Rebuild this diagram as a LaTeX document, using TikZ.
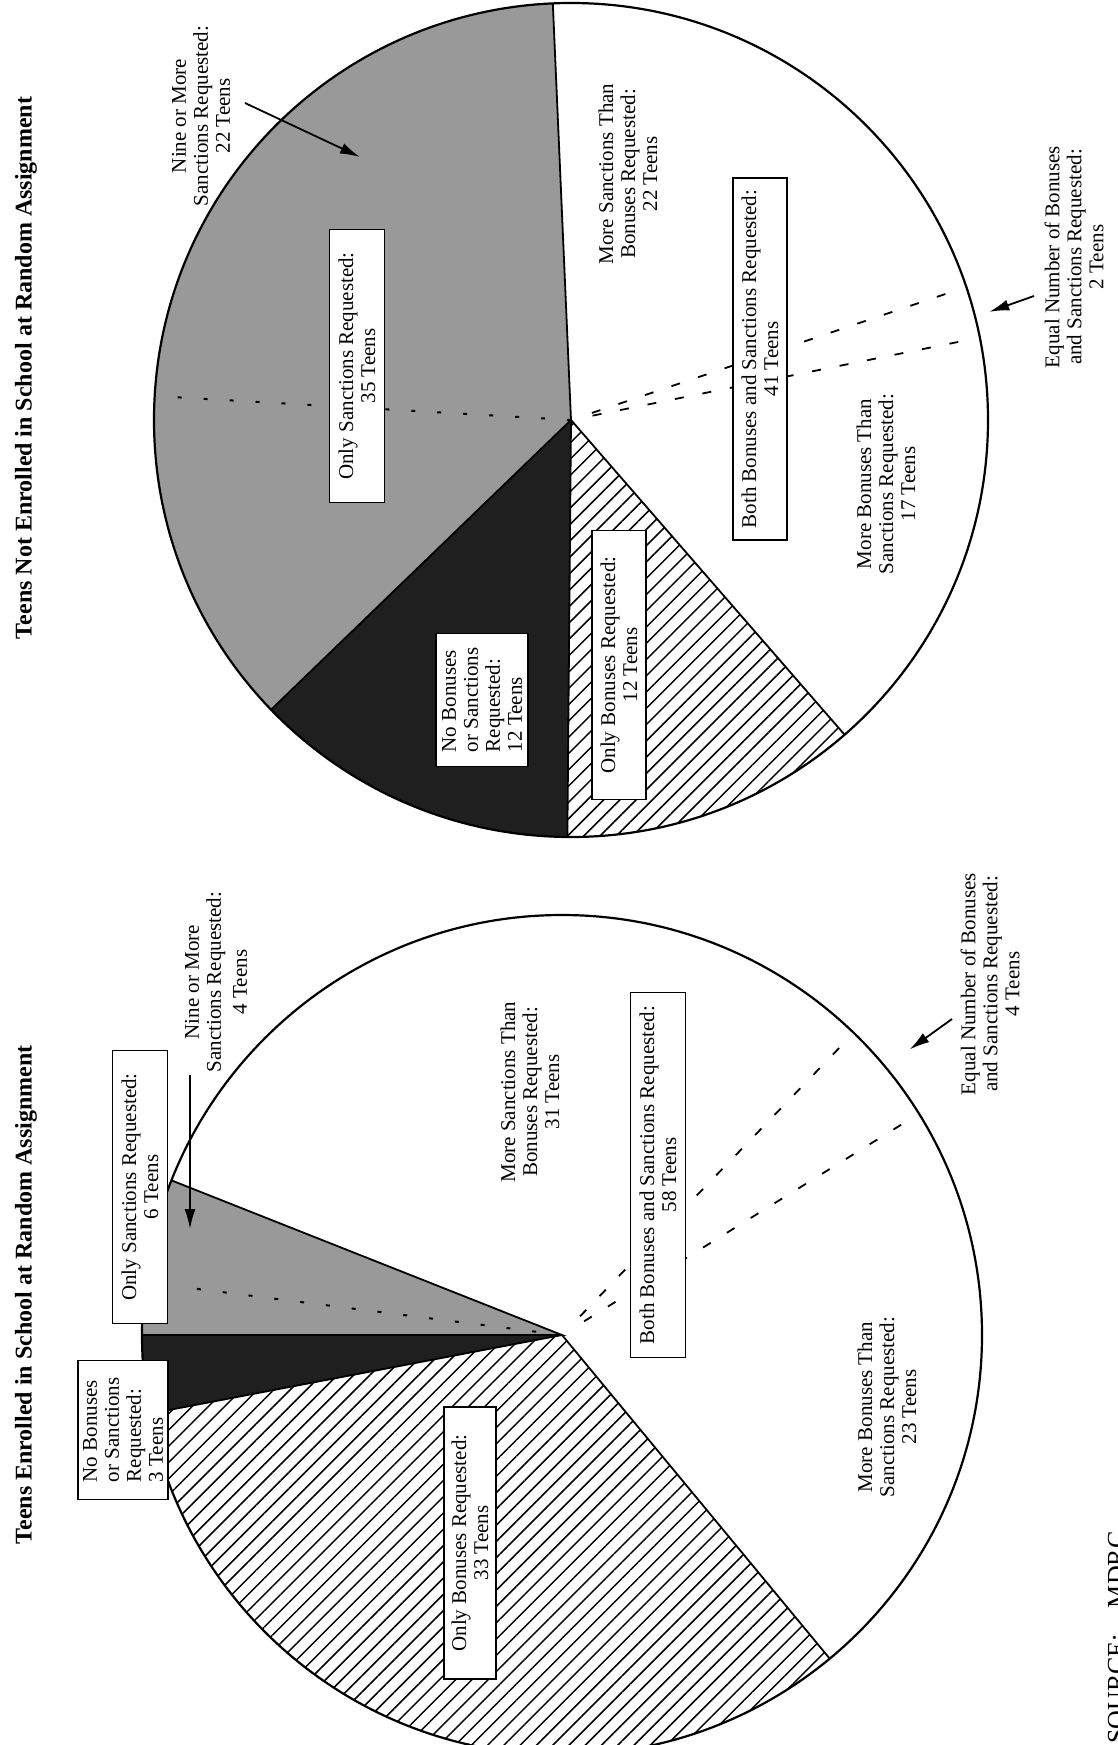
\documentclass[tikz,border=0pt]{standalone}
\usepackage{fontspec}
\setmainfont{Liberation Serif}
\usetikzlibrary{patterns.meta,arrows.meta}
\newcommand\lblfont{\fontsize{21}{22}\selectfont}
\newcommand\ttlfont{\fontsize{24}{26}\selectfont\bfseries}
\newcommand\srcfont{\fontsize{26}{28}\selectfont}
\begin{document}
\begin{tikzpicture}[x=1pt,y=-1pt,
 lbl/.style={rotate=90,align=center,font=\lblfont,inner sep=0pt},
 box/.style={lbl,draw,fill=white,line width=1.8pt},
 ttl/.style={rotate=90,font=\ttlfont,inner sep=0pt},
 rim/.style={line width=2.2pt},
 sep/.style={line width=1.8pt},
 dsh/.style={line width=1.8pt,dash pattern=on 9pt off 19pt},
 dotl/.style={line width=2pt,dash pattern=on 4pt off 22pt},
 arr/.style={line width=1.8pt,-{Latex[length=20pt,width=11pt]}},
 gr/.style={fill=black!40},
 bk/.style={fill=black!88},
 ht/.style={pattern={Lines[angle=45,distance=11.5pt,line width=1.5pt]}},
]
\useasboundingbox (0,0) rectangle (1118,1745);
\clip (0,0) rectangle (1118,1745);
\fill[white] (0,0) rectangle (1118,1745);

% ---------- top pie: not enrolled ----------
\coordinate (tc) at (571,420);
\begin{scope}[shift={(tc)}]
 \fill[gr] (0,0) -- (-92.5:417) arc[start angle=-92.5,end angle=-224,radius=417] -- cycle;
 \fill[bk] (0,0) -- (-224:417) arc[start angle=-224,end angle=-269.5,radius=417] -- cycle;
 \fill[ht] (0,0) -- (-269.5:417) arc[start angle=-269.5,end angle=-311,radius=417] -- cycle;
 \draw[sep] (-92.5:417) -- (0,0) -- (-224:417) (0,0) -- (-269.5:417) (0,0) -- (-311:417);
 \draw[rim] (0,0) circle[radius=417];
 \draw[dotl] (0,0) -- (-176.7:398);
 \draw[dsh] (-11.4:22) -- (-11.4:402) (-18.6:22) -- (-18.6:402);
 \coordinate (teqT) at (-14.5:432);
\end{scope}

\node[ttl] (ttitle) at (26,368) {Teens Not Enrolled in School at Random Assignment};
\node[box,minimum width=273pt,minimum height=55pt] (tos) at (357,366) {Only Sanctions Requested:\\35 Teens};
\node[lbl] (tnine) at (201,116) {Nine or More\\Sanctions Requested:\\22 Teens};
\node[lbl] (tms) at (628,174) {More Sanctions Than\\Bonuses Requested:\\22 Teens};
\node[box,minimum width=362pt,minimum height=54pt] (tboth) at (760,359) {Both Bonuses and Sanctions Requested:\\41 Teens};
\node[lbl] (tmb) at (886,484) {More Bonuses Than\\Sanctions Requested:\\17 Teens};
\node[lbl] (teq) at (1074,257) {Equal Number of Bonuses\\and Sanctions Requested:\\2 Teens};
\node[box,align=left,minimum width=133pt,minimum height=92pt] (tnb) at (482,700) {No Bonuses\\or Sanctions\\Requested:\\12 Teens};
\node[box,minimum width=269pt,minimum height=54pt] (tob) at (619,665) {Only Bonuses Requested:\\12 Teens};
\coordinate (tnineA) at (245,103);
\coordinate (tnineT) at (360,157);
\draw[arr] (tnineA) -- (tnineT);
\coordinate (teqA) at (1034,296);
\draw[arr] (teqA) -- (teqT);

% ---------- bottom pie: enrolled ----------
\coordinate (bc) at (562,1335);
\begin{scope}[shift={(bc)}]
 \fill[gr] (0,0) -- (-158.4:420) arc[start angle=-158.4,end angle=-180,radius=420] -- cycle;
 \fill[bk] (0,0) -- (-180:420) arc[start angle=-180,end angle=-190.8,radius=420] -- cycle;
 \fill[ht] (0,0) -- (-190.8:420) arc[start angle=-190.8,end angle=-309.6,radius=420] -- cycle;
 \draw[sep] (-158.4:420) -- (0,0) -- (-180:420) (0,0) -- (-190.8:420) (0,0) -- (-309.6:420);
 \draw[rim] (0,0) circle[radius=420];
 \draw[dotl] (0,0) -- (-172.8:388);
 \draw[dsh] (-31.8:26) -- (-31.8:414) (-46:26) -- (-46:414);
 \coordinate (beqT) at (-39.4:450);
\end{scope}

\node[ttl] (btitle) at (26,1295) {Teens Enrolled in School at Random Assignment};
\node[box,minimum width=273pt,minimum height=55pt] (bos) at (140,1187) {Only Sanctions Requested:\\6 Teens};
\node[box,align=left,minimum width=139pt,minimum height=90pt] (bnb) at (123,1430) {No Bonuses\\or Sanctions\\Requested:\\3 Teens};
\node[lbl] (bnine) at (216,982) {Nine or More\\Sanctions Requested:\\[4pt]4 Teens};
\node[lbl] (bms) at (530,1092) {More Sanctions Than\\Bonuses Requested:\\31 Teens};
\node[box,minimum width=365pt,minimum height=55pt] (bboth) at (658,1175) {Both Bonuses and Sanctions Requested:\\58 Teens};
\node[lbl] (beq) at (990,984) {Equal Number of Bonuses\\and Sanctions Requested:\\4 Teens};
\node[box,minimum width=272pt,minimum height=52pt] (bob) at (470,1543) {Only Bonuses Requested:\\33 Teens};
\node[lbl] (bmb) at (887,1407) {More Bonuses Than\\Sanctions Requested:\\23 Teens};
\coordinate (bnineA) at (190,1075);
\coordinate (bnineT) at (190,1229);
\draw[arr] (bnineA) -- (bnineT);
\coordinate (beqA) at (952,1019);
\draw[arr] (beqA) -- (beqT);

% ---------- source line (cut at page edge) ----------
\node[rotate=90,font=\srcfont,inner sep=0pt,anchor=base west] (src) at (1125,1744) {SOURCE:\quad MDRC};
\end{tikzpicture}
\end{document}
